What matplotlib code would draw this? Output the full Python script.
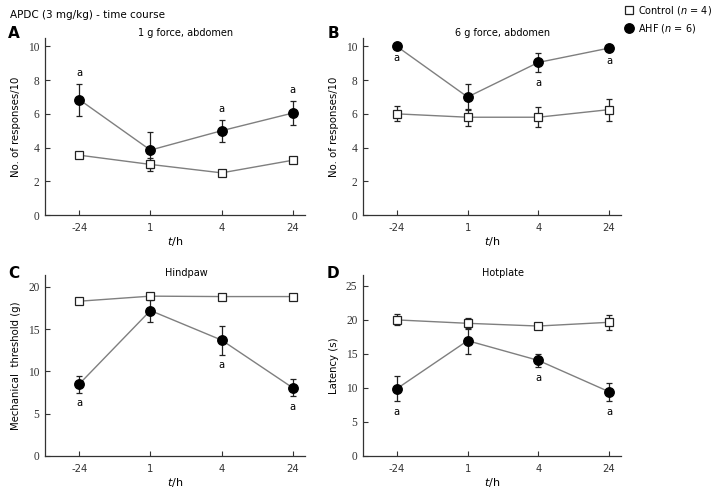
import matplotlib
matplotlib.use("Agg")
import matplotlib.pyplot as plt
from matplotlib.lines import Line2D
import matplotlib.transforms as mtransforms
import numpy as np

plt.rcParams['font.family'] = ['DejaVu Sans']
plt.rcParams['mathtext.fontset'] = 'dejavusans'

time_labels = ["-24", "1", "4", "24"]

# Panel A: 1 g force, abdomen
a_ctrl = [3.55, 3.0, 2.5, 3.25]
a_ctrl_err = [0.15, 0.4, 0.1, 0.15]
a_ahf = [6.85, 3.85, 5.0, 6.05]
a_ahf_err = [0.95, 1.05, 0.65, 0.7]
a_sig = [True, False, True, True]

# Panel B: 6 g force, abdomen
b_ctrl = [6.0, 5.8, 5.8, 6.25]
b_ctrl_err = [0.45, 0.5, 0.6, 0.65]
b_ahf = [10.0, 7.0, 9.05, 9.9]
b_ahf_err = [0.0, 0.75, 0.55, 0.05]
b_sig = [True, False, True, True]

# Panel C: Hindpaw
c_ctrl = [18.3, 18.9, 18.85, 18.85]
c_ctrl_err = [0.2, 0.3, 0.2, 0.2]
c_ahf = [8.5, 17.2, 13.7, 8.05]
c_ahf_err = [1.0, 1.3, 1.7, 1.0]
c_sig = [True, False, True, True]

# Panel D: Hotplate
d_ctrl = [20.0, 19.5, 19.1, 19.65]
d_ctrl_err = [0.8, 0.8, 0.4, 1.1]
d_ahf = [9.9, 16.95, 14.05, 9.45]
d_ahf_err = [1.8, 1.9, 1.0, 1.3]
d_sig = [True, False, True, True]

fig = plt.figure(figsize=(7.16, 4.91), dpi=100)

W, H = 716, 491
def axes_px(l, r, t, b):
    return fig.add_axes([l / W, 1 - b / H, (r - l) / W, (b - t) / H])

axA = axes_px(45, 305, 38, 215)
axB = axes_px(363, 621, 38, 215)
axC = axes_px(45, 305, 275, 456)
axD = axes_px(363, 621, 275, 456)

x = np.arange(len(time_labels))
line_col = '#7f7f7f'

def draw(ax, ctrl, ctrl_err, ahf, ahf_err, sig, ylim, yticks, title, ylabel,
         sig_above, sig_offset, title_dy):
    ax.plot(x, ctrl, color=line_col, lw=1.0, zorder=2)
    ax.plot(x, ahf, color=line_col, lw=1.0, zorder=2)
    ax.errorbar(x, ctrl, yerr=ctrl_err, fmt='none', ecolor='#222222', elinewidth=0.9,
                capsize=2.3, capthick=0.9, zorder=3)
    ax.errorbar(x, ahf, yerr=ahf_err, fmt='none', ecolor='#222222', elinewidth=0.9,
                capsize=2.3, capthick=0.9, zorder=3)
    ax.plot(x, ctrl, ls='none', marker='s', ms=5.8, mfc='white', mec='#222222',
            mew=0.9, zorder=4)
    ax.plot(x, ahf, ls='none', marker='o', ms=6.8, mfc='black', mec='black', zorder=5)
    for xi, yv, e, s in zip(x, ahf, ahf_err, sig):
        if s:
            if sig_above:
                ax.text(xi, yv + e + sig_offset, 'a', ha='center', va='bottom', fontsize=7.2)
            else:
                ax.text(xi, yv - e - sig_offset, 'a', ha='center', va='top', fontsize=7.2)
    ax.set_xlim(-0.48, 3.17)
    ax.set_ylim(*ylim)
    ax.set_yticks(yticks)
    ax.set_yticklabels([str(v) for v in yticks], family='Liberation Serif', fontsize=8.3)
    ax.set_xticks(x)
    ax.set_xticklabels(time_labels, fontsize=7.3)
    ax.tick_params(direction='in', length=3.5, width=0.8, colors='#333333')
    ax.tick_params(axis='x', pad=6)
    ax.tick_params(axis='y', pad=4)
    for sp in ['top', 'right']:
        ax.spines[sp].set_visible(False)
    for sp in ['left', 'bottom']:
        ax.spines[sp].set_color('#333333')
        ax.spines[sp].set_linewidth(0.9)
    ax.set_xlabel('$t$/h', fontsize=8, labelpad=1)
    ax.set_ylabel(ylabel, fontsize=7.3, labelpad=5)
    off = mtransforms.offset_copy(ax.transData, fig=fig, x=0, y=title_dy, units='dots')
    ax.text(1.5, ylim[1], title, ha='center', va='center', fontsize=7.0, transform=off)
    return ax

draw(axA, a_ctrl, a_ctrl_err, a_ahf, a_ahf_err, a_sig, (0, 10.5), [0, 2, 4, 6, 8, 10],
     '1 g force, abdomen', 'No. of responses/10', True, 0.35, 5)
draw(axB, b_ctrl, b_ctrl_err, b_ahf, b_ahf_err, b_sig, (0, 10.5), [0, 2, 4, 6, 8, 10],
     '6 g force, abdomen', 'No. of responses/10', False, 0.4, 5)
draw(axC, c_ctrl, c_ctrl_err, c_ahf, c_ahf_err, c_sig, (0, 21.4), [0, 5, 10, 15, 20],
     'Hindpaw', 'Mechanical  threshold (g)', False, 0.7, 2)
draw(axD, d_ctrl, d_ctrl_err, d_ahf, d_ahf_err, d_sig, (0, 26.6), [0, 5, 10, 15, 20, 25],
     'Hotplate', 'Latency (s)', False, 0.9, 2)

fig.text(10 / W, 1 - 15 / H, 'APDC (3 mg/kg) - time course', ha='left', va='center', fontsize=7.5)
for lab, px, py in [('A', 14, 33), ('B', 333, 33), ('C', 14, 273), ('D', 333, 273)]:
    fig.text(px / W, 1 - py / H, lab, ha='center', va='center', fontsize=11, fontweight='bold')

handles = [Line2D([], [], ls='none', marker='s', ms=5.8, mfc='white', mec='#222222', mew=0.9),
           Line2D([], [], ls='none', marker='o', ms=6.8, mfc='black', mec='black')]
fig.legend(handles, ['Control ($n$ = 4)', 'AHF ($n$ = 6)'], loc='upper left',
           bbox_to_anchor=(624 / W, 1 - 4 / H), frameon=False, fontsize=7.0,
           handlelength=1.0, handletextpad=0.45, borderpad=0, labelspacing=0.55,
           borderaxespad=0)

fig.savefig('out.png', dpi=100)
